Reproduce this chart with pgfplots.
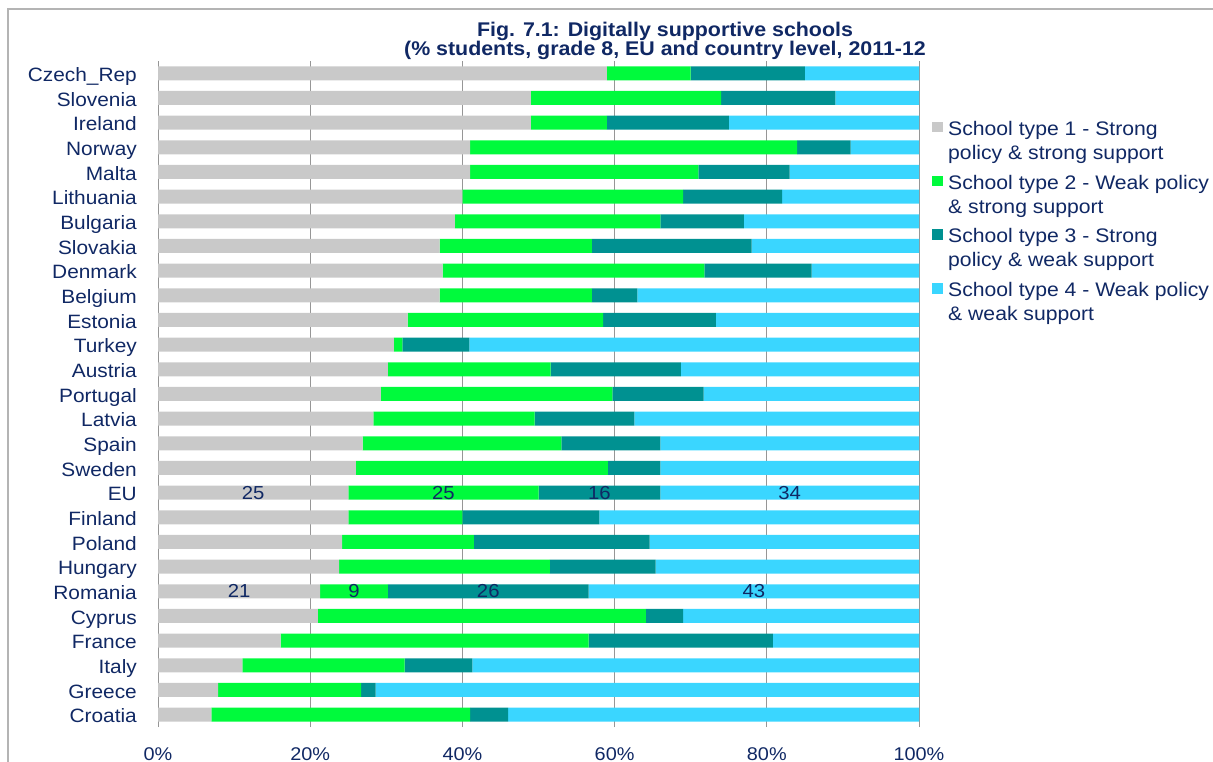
\documentclass[border=0pt]{standalone}
\usepackage{pgfplots}
\pgfplotsset{compat=1.18}
\usepackage{pgfplotstable}
\usepackage{fontspec}
\setmainfont{Liberation Sans}[FakeStretch=1.08]
\definecolor{navy}{RGB}{16,40,100}
\definecolor{c1}{RGB}{201,201,201}
\definecolor{c2}{RGB}{0,250,60}
\definecolor{c3}{RGB}{0,145,145}
\definecolor{c4}{RGB}{58,214,255}
\definecolor{gridgray}{RGB}{150,150,150}
\definecolor{framegray}{RGB}{180,180,180}
\newcommand\catfont{\fontsize{19.3bp}{22bp}\selectfont}
\newcommand\tickfont{\fontsize{18.4bp}{22bp}\selectfont}
\newcommand\legfont{\fontsize{19.6bp}{24bp}\selectfont}
\newcommand\titlefont{\fontsize{19.8bp}{22bp}\selectfont\bfseries}
\newcommand\lblfont{\fontsize{18.8bp}{22bp}\selectfont}

\pgfplotstableread{
y t1 t2 t3 t4
0 7.0 34.0 5.0 54.0
1 7.9 18.8 1.9 71.4
2 11.1 21.3 8.9 58.7
3 16.1 40.5 24.2 19.2
4 21.0 43.1 4.9 31.0
5 21.3 8.9 26.4 43.4
6 23.8 27.7 13.9 34.6
7 24.2 17.3 23.1 35.4
8 25.0 15.0 18.0 42.0
9 25.0 25.0 16.0 34.0
10 26.0 33.1 6.9 34.0
11 26.9 26.1 13.0 34.0
12 28.3 21.2 13.1 37.4
13 29.3 30.4 12.0 28.3
14 30.2 21.4 17.1 31.3
15 31.0 1.1 8.8 59.1
16 32.8 25.7 14.8 26.7
17 37.0 20.0 6.0 37.0
18 37.4 34.4 14.1 14.1
19 37.0 20.0 21.0 22.0
20 39.0 27.0 11.0 23.0
21 40.0 29.0 13.0 18.0
22 41.0 30.0 12.0 17.0
23 41.0 43.0 7.0 9.0
24 49.0 10.0 16.0 25.0
25 49.0 25.0 15.0 11.0
26 59.0 11.0 15.0 15.0
}\data

\begin{document}
\begin{tikzpicture}
\useasboundingbox (0bp,0bp) rectangle (1213bp,762bp);
\draw[framegray, line width=1.5bp] (8bp,-2bp) -- (8bp,753bp) -- (1215bp,753bp);
\node[anchor=base, font=\titlefont, text=navy, inner sep=0pt] at (665bp,725.3bp) {Fig. 7.1: Digitally supportive schools};
\node[anchor=base, font=\titlefont, text=navy, inner sep=0pt] at (665bp,706.5bp) {(\% students, grade 8, EU and country level, 2011-12};
\begin{axis}[
  at={(158bp,35bp)}, anchor=south west,
  scale only axis, width=761bp, height=666bp,
  xbar stacked, bar width=14bp,
  xmin=0, xmax=100, ymin=-0.5, ymax=26.5,
  xtick={0,20,40,60,80,100},
  xticklabels={0\%,20\%,40\%,60\%,80\%,100\%},
  ytick={0,...,26},
  yticklabels={Croatia,Greece,Italy,France,Cyprus,Romania,Hungary,Poland,Finland,EU,Sweden,Spain,Latvia,Portugal,Austria,Turkey,Estonia,Belgium,Denmark,Slovakia,Bulgaria,Lithuania,Malta,Norway,Ireland,Slovenia,Czech\_Rep},
  xmajorgrids, major grid style={gridgray, line width=0.9bp},
  axis line style={draw=none},
  major tick length=0pt,
  xticklabel style={anchor=base, inner sep=0pt, yshift=-33bp, font=\tickfont, text=navy},
  yticklabel style={anchor=base east, inner sep=0pt, xshift=-21bp, yshift=-8.2bp, font=\catfont, text=navy},
  legend style={at={(1.0171,0.9141)}, anchor=north west, draw=none, fill=none,
    inner sep=0pt, row sep=35.5bp, column sep=5.5bp,
    cells={anchor=base west},
    nodes={inner sep=0pt, text=navy, font=\legfont}},
]
\addplot[fill=c1, draw=none, legend image code/.code={\fill[c1] (0bp,3bp) rectangle (10.5bp,13.5bp);}] table[x=t1,y=y] {\data};
\addlegendentry{\begin{tabular}[t]{@{}l@{}}School type 1 - Strong\\policy \& strong support\end{tabular}}
\addplot[fill=c2, draw=none, legend image code/.code={\fill[c2] (0bp,3bp) rectangle (10.5bp,13.5bp);}] table[x=t2,y=y] {\data};
\addlegendentry{\begin{tabular}[t]{@{}l@{}}School type 2 - Weak policy\\\& strong support\end{tabular}}
\addplot[fill=c3, draw=none, legend image code/.code={\fill[c3] (0bp,3bp) rectangle (10.5bp,13.5bp);}] table[x=t3,y=y] {\data};
\addlegendentry{\begin{tabular}[t]{@{}l@{}}School type 3 - Strong\\policy \& weak support\end{tabular}}
\addplot[fill=c4, draw=none, legend image code/.code={\fill[c4] (0bp,3bp) rectangle (10.5bp,13.5bp);}] table[x=t4,y=y] {\data};
\addlegendentry{\begin{tabular}[t]{@{}l@{}}School type 4 - Weak policy\\\& weak support\end{tabular}}
\coordinate (e1) at (axis cs:12.5,9);
\coordinate (e2) at (axis cs:37.5,9);
\coordinate (e3) at (axis cs:58,9);
\coordinate (e4) at (axis cs:83,9);
\coordinate (r1) at (axis cs:10.65,5);
\coordinate (r2) at (axis cs:25.75,5);
\coordinate (r3) at (axis cs:43.4,5);
\coordinate (r4) at (axis cs:78.3,5);
\end{axis}
\node[font=\lblfont, text=navy] at (e1) {25};
\node[font=\lblfont, text=navy] at (e2) {25};
\node[font=\lblfont, text=navy] at (e3) {16};
\node[font=\lblfont, text=navy] at (e4) {34};
\node[font=\lblfont, text=navy] at (r1) {21};
\node[font=\lblfont, text=navy] at (r2) {9};
\node[font=\lblfont, text=navy] at (r3) {26};
\node[font=\lblfont, text=navy] at (r4) {43};
\end{tikzpicture}
\end{document}
